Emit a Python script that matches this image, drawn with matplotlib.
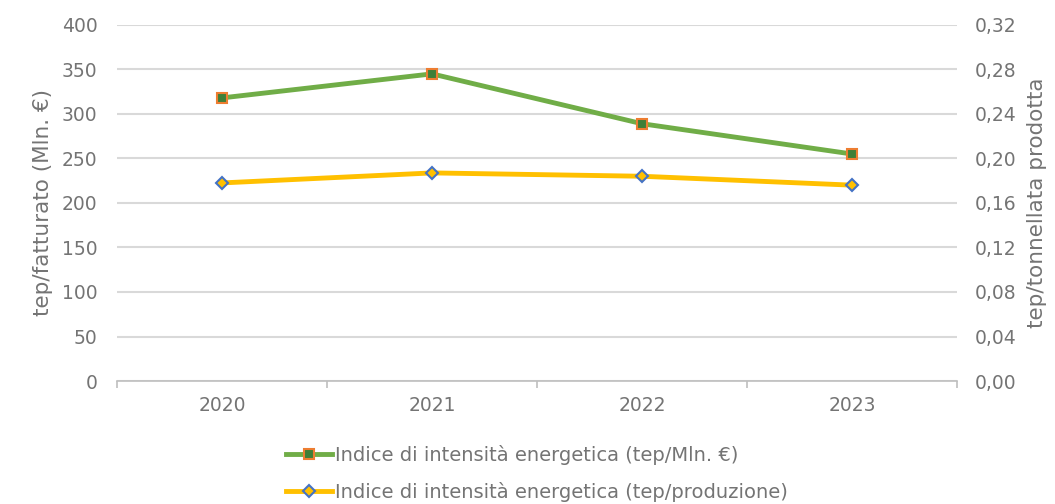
#!/usr/bin/env python3

from matplotlib import pyplot as plt
from matplotlib.ticker import FuncFormatter
from matplotlib.lines import Line2D

# Chart data
years = ['2020', '2021', '2022', '2023']
tep_mln = [318, 345, 289, 255]
tep_prod = [0.178, 0.187, 0.184, 0.176]

left_ticks = [0, 50, 100, 150, 200, 250, 300, 350, 400]
right_ticks = [0.00, 0.04, 0.08, 0.12, 0.16, 0.20, 0.24, 0.28, 0.32]

label_green = 'Indice di intensità energetica (tep/Mln. €)'
label_yellow = 'Indice di intensità energetica (tep/produzione)'

text_col = '#747474'
grid_col = '#D9D9D9'

plt.rcParams['font.family'] = ['DejaVu Sans']

fig = plt.figure(figsize=(10.55, 5.04), dpi=100)
ax = fig.add_axes([0.1109, 0.244, 0.7962, 0.7066])
ax2 = ax.twinx()

x = list(range(len(years)))

# Left axis: green series
ax.plot(x, tep_mln, color='#70AD47', linewidth=3.5, marker='s', markersize=7,
        markerfacecolor='#3E7F38', markeredgecolor='#ED7D31', markeredgewidth=1.5,
        zorder=3)
ax.set_ylim(0, 400)
ax.set_yticks(left_ticks)
ax.set_xlim(-0.5, len(years) - 0.5)
ax.set_xticks(x)
ax.set_xticklabels(years)
ax.yaxis.grid(True, color=grid_col, linewidth=1.5)
ax.set_axisbelow(True)

# Right axis: yellow series
ax2.plot(x, tep_prod, color='#FFC000', linewidth=3.5, marker='D', markersize=6,
         markerfacecolor='#FFC000', markeredgecolor='#4472C4', markeredgewidth=1.5,
         zorder=3)
ax2.set_ylim(0, 0.32)
ax2.set_yticks(right_ticks)
ax2.yaxis.set_major_formatter(FuncFormatter(lambda v, p: '{:.2f}'.format(v).replace('.', ',')))

for a in (ax, ax2):
    for s in ['top', 'left', 'right', 'bottom']:
        a.spines[s].set_visible(False)
ax.tick_params(axis='y', length=0, labelsize=13.5, labelcolor=text_col, pad=14)
ax2.tick_params(axis='y', length=0, labelsize=13.5, labelcolor=text_col, pad=13)

ax.spines['bottom'].set_visible(True)
ax.spines['bottom'].set_color('#BFBFBF')
ax.spines['bottom'].set_linewidth(1.2)

# Category boundary ticks on x axis
ax.set_xticks([i - 0.5 for i in range(len(years) + 1)], minor=True)
ax.tick_params(axis='x', which='major', length=0, labelsize=13.5, labelcolor=text_col, pad=11)
ax.tick_params(axis='x', which='minor', length=5, color='#BFBFBF', width=1.2)

ax.set_ylabel('tep/fatturato (Mln. €)', fontsize=15.5, color=text_col, labelpad=6)
ax2.set_ylabel('tep/tonnellata prodotta', fontsize=15.5, color=text_col, labelpad=7)

# Legend below the chart
handles = [
    Line2D([], [], color='#70AD47', linewidth=3.5, marker='s', markersize=7,
           markerfacecolor='#3E7F38', markeredgecolor='#ED7D31', markeredgewidth=1.5),
    Line2D([], [], color='#FFC000', linewidth=3.5, marker='D', markersize=6,
           markerfacecolor='#FFC000', markeredgecolor='#4472C4', markeredgewidth=1.5),
]
fig.legend(handles, [label_green, label_yellow], loc='center', ncol=1,
           bbox_to_anchor=(0.509, 0.061), frameon=False, fontsize=14,
           labelcolor=text_col, handlelength=2.4, handletextpad=0.15,
           labelspacing=0.85, borderpad=0)

plt.savefig('out.png', dpi=100)
